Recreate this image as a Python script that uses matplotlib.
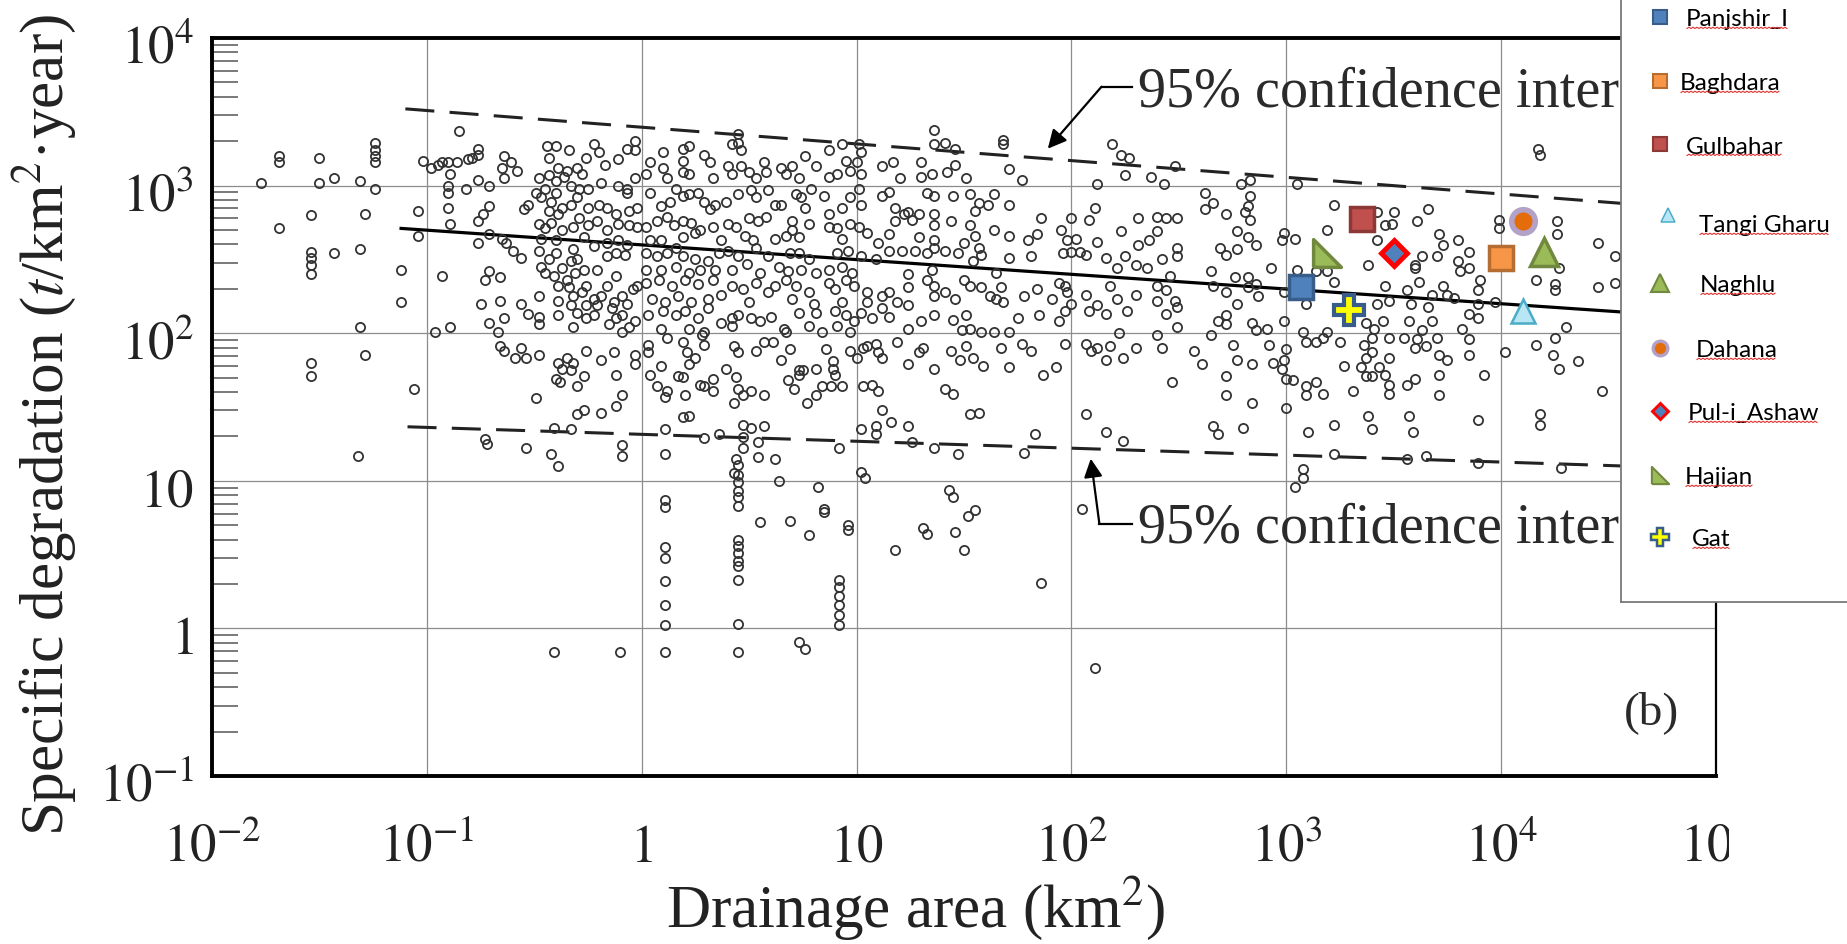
import numpy as np
import matplotlib
matplotlib.use("Agg")
import matplotlib.pyplot as plt
from matplotlib.lines import Line2D
from matplotlib.patches import Rectangle
from matplotlib.ticker import LogLocator, NullFormatter
from matplotlib.transforms import offset_copy

plt.rcParams['font.family'] = ['Liberation Serif', 'DejaVu Serif']
plt.rcParams['mathtext.fontset'] = 'stix'
SERIF = ['Liberation Serif', 'DejaVu Serif']

######################################################################
# scanned data points as (log10 area, log10 degradation)

pts_far_left = [
    (-1.77, 3.02), (-1.69, 3.20), (-1.69, 3.16), (-1.69, 2.71), (-1.54, 2.80), (-1.54, 2.55),
    (-1.54, 2.51), (-1.54, 2.46), (-1.54, 2.40), (-1.54, 1.80), (-1.54, 1.71), (-1.50, 3.19),
    (-1.50, 3.02), (-1.43, 3.05), (-1.43, 2.54), (-1.31, 3.03), (-1.29, 2.81), (-1.31, 2.57),
    (-1.31, 2.04), (-1.29, 1.85), (-1.32, 1.17), (-1.24, 3.29), (-1.24, 3.24), (-1.24, 3.20),
    (-1.24, 3.16), (-1.24, 2.98), (-1.12, 2.43), (-1.12, 2.21), (-1.06, 1.62), (-1.04, 2.83),
    (-1.04, 2.66),
]

pts_tenth = [
    (-1.02, 3.17), (-0.98, 3.12), (-0.95, 3.14), (-0.93, 3.16), (-0.90, 3.16), (-0.86, 3.16),
    (-0.85, 3.37), (-0.81, 3.18), (-0.79, 3.19), (-0.76, 3.25), (-0.76, 3.21), (-0.89, 3.08),
    (-0.90, 3.00), (-0.90, 2.95), (-0.82, 2.98), (-0.76, 3.04), (-0.71, 3.00), (-0.90, 2.85),
    (-0.89, 2.74), (-0.76, 2.76), (-0.74, 2.81), (-0.71, 2.86), (-0.93, 2.39), (-0.76, 2.61),
    (-0.71, 2.67), (-0.73, 2.36), (-0.71, 2.42), (-0.66, 2.38), (-0.75, 2.20), (-0.66, 2.22),
    (-0.64, 2.10), (-0.71, 2.07), (-0.67, 2.01), (-0.66, 1.91), (-0.96, 2.01), (-0.89, 2.04),
    (-0.64, 3.20), (-0.61, 3.16), (-0.58, 3.10), (-0.65, 3.12), (-0.64, 3.05), (-0.65, 2.64),
    (-0.63, 2.61), (-0.60, 2.56), (-0.56, 2.51), (-0.55, 2.84), (-0.73, 1.28), (-0.72, 1.25),
]

pts_near_one = [
    (-0.44, 3.27), (-0.40, 3.27), (-0.43, 3.19), (-0.34, 3.24), (-0.26, 3.19), (-0.22, 3.28),
    (-0.20, 3.23), (-0.17, 3.14), (-0.11, 3.18), (-0.07, 3.25), (-0.03, 3.30), (-0.03, 3.24),
    (-0.39, 3.12), (-0.35, 3.10), (-0.30, 3.12), (-0.28, 3.08),
    (-0.48, 3.05), (-0.43, 3.07), (-0.40, 3.03), (-0.36, 3.06), (-0.33, 3.00), (-0.29, 2.98),
    (-0.25, 2.98), (-0.19, 3.02), (-0.11, 3.00), (-0.07, 2.98), (-0.03, 3.05), (-0.49, 2.95),
    (-0.45, 2.98), (-0.40, 2.95),
    (-0.53, 2.87), (-0.47, 2.92), (-0.42, 2.89), (-0.37, 2.85), (-0.33, 2.87), (-0.30, 2.92),
    (-0.25, 2.85), (-0.20, 2.87), (-0.16, 2.85), (-0.12, 2.81), (-0.07, 2.95), (-0.06, 2.83),
    (-0.02, 2.85), (-0.43, 2.83), (-0.39, 2.81),
    (-0.48, 2.74), (-0.45, 2.71), (-0.42, 2.75), (-0.37, 2.70), (-0.32, 2.72), (-0.29, 2.78),
    (-0.25, 2.73), (-0.21, 2.76), (-0.16, 2.70), (-0.11, 2.74), (-0.06, 2.73), (-0.02, 2.72),
    (-0.47, 2.64), (-0.40, 2.63), (-0.32, 2.57), (-0.27, 2.65), (-0.22, 2.59), (-0.16, 2.61),
    (-0.11, 2.63), (-0.07, 2.60),
    (-0.48, 2.56), (-0.47, 2.45), (-0.43, 2.50), (-0.40, 2.54), (-0.37, 2.44), (-0.33, 2.49),
    (-0.30, 2.50), (-0.27, 2.43), (-0.21, 2.43), (-0.16, 2.52), (-0.12, 2.54), (-0.12, 2.39),
    (-0.08, 2.53), (-0.02, 2.32), (-0.45, 2.41), (-0.41, 2.39), (-0.39, 2.32), (-0.35, 2.36),
    (-0.31, 2.41),
    (-0.34, 2.31), (-0.32, 2.25), (-0.28, 2.28), (-0.26, 2.32), (-0.22, 2.23), (-0.19, 2.25),
    (-0.16, 2.32), (-0.13, 2.21), (-0.09, 2.25), (-0.07, 2.20), (-0.04, 2.30), (-0.39, 2.22),
    (-0.33, 2.19), (-0.26, 2.19), (-0.21, 2.19), (-0.48, 2.25), (-0.56, 2.20), (-0.53, 2.13),
    (-0.39, 2.12), (-0.30, 2.14), (-0.26, 2.10), (-0.22, 2.12), (-0.32, 2.04), (-0.15, 2.06),
    (-0.12, 2.10), (-0.09, 2.12), (-0.06, 2.04), (-0.03, 2.08), (-0.48, 2.11), (-0.48, 2.06),
    (-0.09, 2.01), (-0.14, 2.17),
    (-0.56, 1.90), (-0.59, 1.83), (-0.54, 1.83), (-0.48, 1.85), (-0.39, 1.80), (-0.37, 1.76),
    (-0.35, 1.83), (-0.32, 1.80), (-0.33, 1.75), (-0.40, 1.69), (-0.38, 1.67), (-0.27, 1.71),
    (-0.30, 1.64), (-0.26, 1.88), (-0.19, 1.82), (-0.13, 1.87), (-0.12, 1.72), (-0.03, 1.85),
    (-0.03, 1.79), (-0.49, 1.56), (-0.09, 1.58), (-0.12, 1.51), (-0.27, 1.48), (-0.30, 1.45),
    (-0.19, 1.46), (-0.41, 1.36), (-0.33, 1.35), (-0.09, 1.24), (-0.09, 1.17), (-0.42, 1.18),
    (-0.39, 1.10), (-0.54, 1.22), (-0.64, 1.88),
]

pts_one_to_hundred = [
    (0.45, 3.35), (0.45, 3.29), (0.46, 3.24), (0.42, 3.28), (0.10, 3.23), (0.19, 3.25),
    (0.22, 3.27), (0.29, 3.21), (0.19, 3.17), (0.32, 3.16), (0.76, 3.20), (0.87, 3.24),
    (0.93, 3.28), (1.01, 3.28), (1.02, 3.23), (1.36, 3.38), (1.36, 3.28), (1.41, 3.29),
    (1.46, 3.25), (1.68, 3.31), (1.68, 3.28),
    (0.02, 3.08), (0.10, 3.12), (0.12, 3.05), (0.19, 3.09), (0.22, 3.08), (0.33, 3.05),
    (0.40, 3.13), (0.42, 3.08), (0.46, 3.13), (0.50, 3.09), (0.53, 3.05), (0.57, 3.16),
    (0.58, 3.09), (0.65, 3.12), (0.67, 3.08), (0.70, 3.13), (0.73, 3.05), (0.81, 3.13),
    (0.87, 3.06), (0.91, 3.08), (0.95, 3.17), (0.97, 3.10), (1.00, 3.16), (1.02, 3.08),
    (1.12, 3.13), (1.17, 3.16), (1.20, 3.05), (1.30, 3.16), (1.30, 3.06), (1.35, 3.08),
    (1.42, 3.09), (1.46, 3.14), (1.51, 3.05), (1.71, 3.11), (1.77, 3.04), (0.04, 3.16),
    (0.04, 2.95), (0.09, 2.86), (0.13, 2.89), (0.16, 2.98), (0.19, 2.93), (0.22, 2.94),
    (0.26, 2.95), (0.29, 2.89), (0.32, 2.84), (0.34, 2.87), (0.39, 2.89), (0.45, 2.94),
    (0.51, 2.97), (0.53, 2.92), (0.59, 2.97), (0.62, 2.87), (0.65, 2.87), (0.72, 2.94),
    (0.74, 2.92), (0.76, 2.85), (0.79, 2.98), (0.85, 2.93), (0.87, 2.81), (0.93, 2.85),
    (0.97, 2.92), (1.01, 2.98), (1.02, 2.87), (1.12, 2.93), (1.15, 2.96), (1.18, 2.85),
    (1.24, 2.82), (1.29, 2.81), (1.33, 2.95), (1.36, 2.93), (1.36, 2.81), (1.45, 2.93),
    (1.53, 2.94), (1.57, 2.88), (1.61, 2.87), (1.64, 2.94), (1.71, 2.87), (1.55, 2.83),
    (1.86, 2.78),
    (0.02, 2.72), (0.07, 2.76), (0.12, 2.79), (0.15, 2.73), (0.19, 2.76), (0.23, 2.75),
    (0.27, 2.70), (0.33, 2.72), (0.40, 2.74), (0.44, 2.72), (0.50, 2.78), (0.54, 2.76),
    (0.58, 2.79), (0.62, 2.64), (0.67, 2.66), (0.70, 2.76), (0.73, 2.65), (0.78, 2.74),
    (0.87, 2.72), (0.91, 2.71), (0.93, 2.64), (0.97, 2.74), (1.01, 2.72), (1.05, 2.68),
    (1.10, 2.61), (1.15, 2.67), (1.18, 2.76), (1.22, 2.81), (1.26, 2.77), (1.29, 2.65),
    (1.36, 2.73), (1.36, 2.63), (1.44, 2.76), (1.53, 2.73), (1.55, 2.66), (1.50, 2.61),
    (1.64, 2.70), (1.71, 2.66), (1.80, 2.63), (1.84, 2.67), (1.95, 2.70), (1.98, 2.63),
    (1.57, 2.58), (0.04, 2.63), (0.09, 2.63), (0.19, 2.65), (0.25, 2.68), (0.37, 2.63),
    (0.48, 2.66), (0.52, 2.63), (0.70, 2.70),
    (0.02, 2.54), (0.07, 2.52), (0.12, 2.54), (0.16, 2.58), (0.19, 2.52), (0.25, 2.50),
    (0.31, 2.49), (0.36, 2.54), (0.40, 2.56), (0.45, 2.52), (0.53, 2.58), (0.59, 2.52),
    (0.64, 2.45), (0.69, 2.54), (0.73, 2.54), (0.78, 2.50), (0.81, 2.41), (0.87, 2.43),
    (0.91, 2.54), (0.96, 2.56), (1.02, 2.52), (1.09, 2.50), (1.15, 2.56), (1.21, 2.56),
    (1.27, 2.56), (1.33, 2.54), (1.36, 2.58), (1.41, 2.56), (1.47, 2.54), (1.54, 2.49),
    (1.58, 2.53), (1.65, 2.41), (1.71, 2.51), (1.81, 2.52), (1.96, 2.54), (0.02, 2.43),
    (0.09, 2.43), (0.16, 2.45), (0.22, 2.41), (0.27, 2.43), (0.34, 2.43), (0.42, 2.43),
    (0.49, 2.47), (0.55, 2.41), (0.68, 2.42), (0.74, 2.43), (0.93, 2.45), (0.98, 2.41),
    (1.24, 2.40), (1.35, 2.43),
    (0.02, 2.34), (0.08, 2.36), (0.14, 2.32), (0.20, 2.36), (0.26, 2.33), (0.33, 2.36),
    (0.37, 2.26), (0.42, 2.32), (0.47, 2.30), (0.53, 2.34), (0.59, 2.28), (0.62, 2.32),
    (0.67, 2.36), (0.72, 2.32), (0.78, 2.28), (0.87, 2.34), (0.90, 2.30), (0.95, 2.36),
    (0.99, 2.32), (1.05, 2.28), (1.12, 2.25), (1.15, 2.28), (1.19, 2.21), (1.24, 2.31),
    (1.24, 2.19), (1.33, 2.36), (1.36, 2.32), (1.36, 2.25), (1.41, 2.28), (1.46, 2.23),
    (1.50, 2.36), (1.53, 2.32), (1.58, 2.31), (1.62, 2.25), (1.65, 2.23), (1.68, 2.21),
    (1.67, 2.31), (1.78, 2.25), (1.84, 2.30), (1.91, 2.23), (1.94, 2.34), (1.97, 2.32),
    (1.98, 2.28), (0.05, 2.23), (0.11, 2.21), (0.17, 2.25), (0.23, 2.21), (0.31, 2.23),
    (0.50, 2.21), (0.70, 2.23), (0.80, 2.20), (0.93, 2.21), (1.05, 2.21),
    (0.03, 2.12), (0.10, 2.15), (0.16, 2.12), (0.20, 2.15), (0.26, 2.10), (0.31, 2.17),
    (0.37, 2.07), (0.42, 2.05), (0.45, 2.12), (0.51, 2.10), (0.55, 2.08), (0.60, 2.11),
    (0.66, 2.03), (0.73, 2.14), (0.78, 2.05), (0.81, 2.14), (0.84, 2.01), (0.90, 2.15),
    (0.95, 2.12), (0.99, 2.08), (1.02, 2.14), (1.07, 2.10), (1.12, 2.17), (1.15, 2.11),
    (1.24, 2.03), (1.30, 2.08), (1.36, 2.12), (1.45, 2.09), (1.51, 2.12), (1.53, 2.03),
    (1.58, 2.01), (1.64, 2.01), (1.71, 2.01), (1.75, 2.10), (1.85, 2.12), (1.94, 2.08),
    (1.97, 2.15), (0.09, 2.03), (0.22, 2.03), (0.29, 2.01), (0.42, 2.10), (0.67, 2.01),
    (0.91, 2.05), (0.97, 2.01), (1.49, 2.02),
    (0.03, 1.92), (0.03, 1.87), (0.12, 1.97), (0.19, 1.94), (0.21, 1.87), (0.25, 1.83),
    (0.28, 1.99), (0.29, 1.92), (0.43, 1.91), (0.45, 1.87), (0.53, 1.88), (0.57, 1.94),
    (0.61, 1.94), (0.65, 1.82), (0.69, 1.89), (0.73, 1.75), (0.75, 1.75), (0.81, 1.76),
    (0.86, 1.89), (0.89, 1.81), (0.89, 1.76), (0.97, 1.88), (1.00, 1.83), (1.03, 1.90),
    (1.05, 1.91), (1.09, 1.93), (1.10, 1.87), (1.12, 1.83), (1.19, 1.94), (1.24, 1.79),
    (1.29, 1.87), (1.31, 1.90), (1.36, 1.76), (1.44, 1.88), (1.48, 1.82), (1.51, 1.91),
    (1.54, 1.83), (1.59, 1.78), (1.67, 1.90), (1.71, 1.77), (1.77, 1.93), (1.81, 1.88),
    (1.93, 1.77), (1.87, 1.72), (1.97, 1.93), (0.09, 1.78), (0.17, 1.71), (0.22, 1.79),
    (0.04, 1.72), (0.07, 1.64), (0.12, 1.61), (0.11, 1.57), (0.19, 1.70), (0.20, 1.58),
    (0.27, 1.65), (0.29, 1.64), (0.33, 1.69), (0.33, 1.61), (0.39, 1.76), (0.44, 1.70),
    (0.45, 1.62), (0.47, 1.58), (0.51, 1.61), (0.57, 1.58), (0.68, 1.68), (0.71, 1.62),
    (0.73, 1.72), (0.77, 1.53), (0.81, 1.58), (0.84, 1.64), (0.88, 1.64), (0.93, 1.64),
    (0.90, 1.72), (1.03, 1.64), (1.07, 1.65), (1.10, 1.61), (1.12, 1.48), (1.16, 1.40),
    (1.41, 1.62), (1.45, 1.59), (1.53, 1.45), (1.57, 1.46), (0.43, 1.53),
    (0.19, 1.43), (0.22, 1.44), (0.11, 1.35), (0.29, 1.29), (0.47, 1.38), (0.51, 1.36),
    (0.57, 1.37), (0.47, 1.30), (0.47, 1.22), (0.44, 1.15), (0.45, 1.11), (0.54, 1.16),
    (0.62, 1.15), (0.54, 1.26), (0.92, 1.22), (0.11, 1.18), (1.02, 1.35), (1.09, 1.37),
    (1.09, 1.32), (1.24, 1.37), (1.26, 1.26), (1.36, 1.22), (1.47, 1.18), (1.83, 1.32),
    (1.78, 1.19), (1.02, 1.06), (0.43, 1.05), (0.36, 1.32),
]

pts_large = [
    (2.19, 3.28), (2.23, 3.21), (2.27, 3.19), (2.25, 3.07), (2.37, 3.06), (2.43, 3.01),
    (2.48, 3.13), (2.12, 3.01), (2.79, 3.01), (2.83, 3.04), (3.05, 3.01), (4.17, 3.25),
    (4.18, 3.21),
    (2.62, 2.95), (2.62, 2.84), (2.66, 2.88), (2.83, 2.93), (2.82, 2.86), (2.83, 2.77),
    (2.81, 2.82), (2.72, 2.81), (2.11, 2.85), (2.08, 2.77), (2.31, 2.78), (2.40, 2.79),
    (2.44, 2.78), (2.49, 2.78), (2.23, 2.69), (2.40, 2.69), (2.36, 2.63), (2.31, 2.60),
    (2.49, 2.58), (2.49, 2.52), (2.77, 2.69), (2.82, 2.65), (2.86, 2.60), (2.77, 2.57),
    (2.69, 2.58), (2.72, 2.53), (2.99, 2.68), (3.04, 2.64), (2.98, 2.63), (3.22, 2.87),
    (3.19, 2.70), (3.42, 2.82), (3.50, 2.82), (3.46, 2.73), (3.49, 2.74), (3.42, 2.63),
    (3.61, 2.76), (3.66, 2.84), (3.71, 2.67), (3.73, 2.60), (3.80, 2.63), (3.70, 2.52),
    (3.85, 2.55), (3.80, 2.49), (3.85, 2.44), (3.81, 2.42), (3.99, 2.77), (3.99, 2.71),
    (4.26, 2.76), (4.26, 2.67), (4.45, 2.61), (4.53, 2.52), (3.60, 2.46), (3.63, 2.52),
    (2.00, 2.78), (2.02, 2.64), (2.04, 2.55),
    (2.00, 2.55), (2.07, 2.53), (2.12, 2.62), (2.16, 2.51), (2.25, 2.52), (2.21, 2.44),
    (2.30, 2.46), (2.35, 2.44), (2.42, 2.50), (2.46, 2.39), (2.93, 2.44), (2.65, 2.42),
    (2.76, 2.38), (2.82, 2.38), (2.86, 2.33), (3.05, 2.43), (3.14, 2.42), (3.19, 2.42),
    (3.22, 2.35), (3.38, 2.46), (3.46, 2.32), (3.60, 2.44), (3.62, 2.35), (3.73, 2.32),
    (3.68, 2.26), (3.90, 2.36), (3.89, 2.29), (4.16, 2.36), (4.25, 2.33), (4.25, 2.29),
    (4.27, 2.44), (4.45, 2.31), (4.53, 2.34), (3.97, 2.21),
    (2.00, 2.20), (2.07, 2.26), (2.08, 2.15), (2.12, 2.19), (2.16, 2.13), (2.18, 2.32),
    (2.21, 2.23), (2.26, 2.15), (2.30, 2.26), (2.40, 2.32), (2.44, 2.29), (2.48, 2.22),
    (2.40, 2.22), (2.44, 2.13), (2.49, 2.18), (2.66, 2.32), (2.72, 2.28), (2.77, 2.20),
    (2.82, 2.31), (2.87, 2.25), (2.99, 2.28), (3.09, 2.20), (3.42, 2.20), (3.48, 2.22),
    (3.56, 2.29), (3.58, 2.20), (3.66, 2.18), (3.75, 2.26), (3.89, 2.20), (3.85, 2.13),
    (3.89, 2.10), (3.78, 2.24),
    (2.49, 2.04), (2.65, 1.99), (2.68, 2.08), (2.72, 2.12), (2.72, 2.06), (2.84, 2.07),
    (2.91, 2.03), (2.86, 2.02), (2.99, 2.08), (2.22, 2.00), (2.40, 1.99), (2.07, 1.93),
    (2.09, 1.88), (2.12, 1.90), (2.18, 1.91), (2.16, 1.82), (2.24, 1.83), (2.30, 1.90),
    (2.42, 1.90), (2.57, 1.88), (2.61, 1.79), (2.75, 1.92), (2.77, 1.82), (2.84, 1.79),
    (2.92, 1.92), (3.00, 1.89), (2.99, 1.82), (2.94, 1.80), (3.08, 2.01), (3.14, 1.94),
    (3.09, 1.94), (3.19, 2.01), (3.17, 1.97), (3.25, 1.94), (3.37, 2.07), (3.41, 2.03),
    (3.45, 2.08), (3.48, 1.97), (3.40, 1.97), (3.36, 1.92), (3.37, 1.83), (3.40, 1.87),
    (3.48, 1.83), (3.43, 1.77), (3.35, 1.77), (3.27, 1.78), (3.57, 2.08), (3.63, 2.02),
    (3.68, 2.08), (3.61, 1.96), (3.65, 1.91), (3.55, 1.97), (3.60, 1.90), (3.70, 1.97),
    (3.71, 1.85), (3.75, 1.82), (3.71, 1.72), (3.85, 1.96), (3.85, 1.85), (3.82, 2.03),
    (4.02, 1.87), (4.16, 1.92), (4.25, 1.97), (4.30, 2.04), (4.24, 1.85), (4.27, 1.76),
    (4.36, 1.81), (4.47, 1.61),
    (2.47, 1.67), (2.72, 1.71), (2.72, 1.58), (2.84, 1.53), (2.98, 1.76), (3.00, 1.69),
    (3.03, 1.68), (3.09, 1.64), (3.14, 1.67), (3.17, 1.59), (3.09, 1.58), (3.31, 1.61),
    (3.37, 1.71), (3.40, 1.71), (3.46, 1.72), (3.48, 1.65), (3.48, 1.59), (3.56, 1.65),
    (3.60, 1.69), (3.71, 1.58), (3.92, 1.72), (2.07, 1.45), (2.16, 1.33), (2.24, 1.27),
    (2.66, 1.37), (2.68, 1.32), (2.80, 1.36), (3.00, 1.49), (3.10, 1.33), (3.22, 1.38),
    (3.38, 1.44), (3.40, 1.35), (3.57, 1.44), (3.59, 1.33), (3.89, 1.41), (4.18, 1.45),
    (4.18, 1.38), (3.22, 1.18), (3.56, 1.15), (3.65, 1.17), (3.89, 1.12), (4.28, 1.09),
    (3.08, 1.08),
]

pts_low = [
    (0.11, 0.87), (0.11, 0.82), (0.11, 0.55), (0.11, 0.48), (0.11, 0.32), (0.11, 0.16),
    (0.11, 0.02), (0.11, -0.16),
    (0.45, 1.04), (0.45, 0.99), (0.45, 0.93), (0.45, 0.89), (0.45, 0.83), (0.45, 0.60),
    (0.45, 0.56), (0.45, 0.51), (0.45, 0.46), (0.45, 0.42), (0.45, 0.33), (0.45, 0.03),
    (0.45, -0.16),
    (0.55, 0.72), (0.64, 1.00), (0.69, 0.73), (0.82, 0.96), (0.85, 0.81), (0.85, 0.79),
    (0.78, 0.63), (0.96, 0.70), (0.96, 0.67),
    (0.92, 0.33), (0.92, 0.28), (0.92, 0.22), (0.92, 0.16), (0.92, 0.09), (0.92, 0.02),
    (0.73, -0.09), (0.76, -0.14), (-0.41, -0.16), (-0.10, -0.16),
    (1.04, 1.02), (1.43, 0.94), (1.45, 0.89), (1.55, 0.80), (1.52, 0.76), (1.31, 0.68),
    (1.33, 0.64), (1.18, 0.53), (1.46, 0.65), (1.50, 0.53), (1.86, 0.31), (2.05, 0.81),
    (2.11, -0.27), (3.04, 0.96), (3.08, 1.02),
]

# regression line and 95% confidence limits (log10 area, log10 degradation at both ends)
fit_line = [(-1.12, 2.71), (5.0, 2.10)]
upper_limit = [(-1.10, 3.52), (5.0, 2.83)]
lower_limit = [(-1.09, 1.366), (5.0, 1.08)]

# Afghan reservoirs added on top
station_names = ['Panjshir_I', 'Baghdara', 'Gulbahar', 'Tangi Gharu', 'Naghlu',
                 'Dahana', 'Pul-i_Ashaw', 'Hajian', 'Gat']
station_area = [1175, 10000, 2240, 12700, 15800, 12600, 3160, 1550, 1950]
station_sed = [204, 324, 590, 141, 355, 575, 351, 347, 143]

x_tick_labels = ['$10^{-2}$', '$10^{-1}$', '$1$', '$10$', '$10^{2}$', '$10^{3}$', '$10^{4}$', '$10^{5}$']
y_tick_labels = ['$10^{-1}$', '$1$', '$10$', '$10^{2}$', '$10^{3}$', '$10^{4}$']

# the scan's label is cut by the legend box after "inter"
conf_label = '95% confidence inter'

######################################################################

right_tri = [(-1, -1), (1, -1), (-1, 1), (-1, -1)]
styles = {
    'Panjshir_I': dict(marker='s', mfc='#4F81BD', mec='#385D8A', ms=17, mew=2.5),
    'Baghdara': dict(marker='s', mfc='#F79646', mec='#B66D31', ms=17, mew=2.5),
    'Gulbahar': dict(marker='s', mfc='#C0504D', mec='#8C3836', ms=17, mew=2.5),
    'Tangi Gharu': dict(marker='^', mfc='#B9E6F5', mec='#4BACC6', ms=17, mew=1.8),
    'Naghlu': dict(marker='^', mfc='#9BBB59', mec='#71893F', ms=20, mew=2.5),
    'Dahana': dict(marker='o', mfc='#E46C0A', mec='#B3A2C7', ms=17, mew=4),
    'Pul-i_Ashaw': dict(marker='D', mfc='#4F81BD', mec='#FF0000', ms=13, mew=3.5),
    'Hajian': dict(marker=right_tri, mfc='#9BBB59', mec='#71893F', ms=20, mew=2.5),
    'Gat': dict(marker='P', mfc='#FFFF00', mec='#385D8A', ms=22, mew=3),
}

W, H = 1847, 945
fig = plt.figure(figsize=(W / 100, H / 100), dpi=100)
ax = fig.add_axes([212 / W, 1 - 777 / H, (1716 - 212) / W, (777 - 39) / H])
ax.set_xscale('log')
ax.set_yscale('log')
ax.set_xlim(1e-2, 1e5)
ax.set_ylim(1e-1, 1e4)

ax.grid(True, which='major', color='#8c8c8c', lw=0.9)
ax.set_axisbelow(True)
ax.tick_params(which='major', length=0, labelbottom=False, labelleft=False)
ax.yaxis.set_minor_locator(LogLocator(base=10, subs=np.arange(2, 10), numticks=30))
ax.yaxis.set_minor_formatter(NullFormatter())
ax.xaxis.set_minor_formatter(NullFormatter())
ax.tick_params(axis='y', which='minor', direction='in', length=19, width=1.1, color='#555555')
ax.tick_params(axis='x', which='minor', length=0)
for side in ['top', 'left', 'bottom']:
    ax.spines[side].set_linewidth(2.8)
ax.spines['right'].set_linewidth(1.6)

# scanned points
all_pts = pts_far_left + pts_tenth + pts_near_one + pts_one_to_hundred + pts_large + pts_low
lx, ly = np.array(all_pts).T
ax.plot(10 ** lx, 10 ** ly, 'o', ls='none', mfc='none', mec='#333333', ms=6.6, mew=1.3, zorder=3)

# regression + confidence lines
fx, fy = np.array(fit_line).T
ax.plot(10 ** fx, 10 ** fy, color='black', lw=2.3, zorder=2)
for lim in (upper_limit, lower_limit):
    px, py = np.array(lim).T
    ax.plot(10 ** px, 10 ** py, color='#222222', lw=2.2, ls=(0, (9.5, 5)), zorder=2)

# annotations
for ty in (3.545, 0.59):
    ax.text(10 ** 2.31, 10 ** ty, conf_label, fontsize=40.5, color='#2a2a2a',
            family=SERIF, ha='left', va='baseline', zorder=4)
ax.plot([10 ** 2.28, 10 ** 2.14], [10 ** 3.67, 10 ** 3.67], color='black', lw=1.6)
ax.annotate('', xy=(10 ** 1.89, 10 ** 3.25), xytext=(10 ** 2.14, 10 ** 3.67),
            arrowprops=dict(arrowstyle='-|>', color='black', lw=1.6, mutation_scale=28,
                            shrinkA=0, shrinkB=0))
ax.plot([10 ** 2.28, 10 ** 2.13], [10 ** 0.71, 10 ** 0.71], color='black', lw=1.6)
ax.annotate('', xy=(10 ** 2.09, 10 ** 1.15), xytext=(10 ** 2.13, 10 ** 0.71),
            arrowprops=dict(arrowstyle='-|>', color='black', lw=1.6, mutation_scale=28,
                            shrinkA=0, shrinkB=0))
ax.text(10 ** 4.70, 10 ** -0.567, '(b)', fontsize=34, color='#2a2a2a', family=SERIF,
        ha='center', va='center')

# reservoir markers
for name, a, s in zip(station_names, station_area, station_sed):
    ax.plot([a], [s], ls='none', zorder=6, **styles[name])

# tick labels drawn by hand so the superscripts sit like the scan
xt = offset_copy(ax.get_xaxis_transform(), fig=fig, x=0, y=-61, units='points')
for i, lab in enumerate(x_tick_labels):
    ax.text(10.0 ** (i - 2), 0, lab, transform=xt, ha='center', va='baseline',
            fontsize=38, color='#222222', clip_on=False)
yt = offset_copy(ax.get_yaxis_transform(), fig=fig, x=-13, y=-18, units='points')
for i, lab in enumerate(y_tick_labels):
    ax.text(0, 10.0 ** (i - 1), lab, transform=yt, ha='right', va='baseline',
            fontsize=38, color='#222222', clip_on=False)

fig.text(0.496, 0.019, 'Drainage area (km$^2$)', fontsize=44, color='#222222',
         family=SERIF, ha='center', va='baseline')
fig.text(0.024, 0.55, 'Specific degradation ($t$/km$^2$·year)', fontsize=44, color='#222222',
         family=SERIF, ha='center', va='center', rotation=90)

# the scan is cut on the right
fig.add_artist(Rectangle((1729 / W, 0), 1, 1, transform=fig.transFigure,
                         facecolor='white', edgecolor='none', zorder=1))

# legend box
lax = fig.add_axes([1621 / W, 1 - 603 / H, 240 / W, 620 / H])
lax.set_xlim(1621, 1861)
lax.set_ylim(603, -17)
lax.set_xticks([])
lax.set_yticks([])
lax.set_zorder(5)
for s in lax.spines.values():
    s.set_color('#7a7a7a')
    s.set_linewidth(1.3)

leg_y = [20, 84, 147, 218, 286, 351, 414, 478, 540]
leg_mx = [1660, 1660, 1660, 1668, 1660, 1660, 1660, 1660, 1660]
leg_tx = [1686, 1680, 1686, 1699, 1700, 1696, 1688, 1685, 1692]
leg_texts = []
for name, y, mx, tx in zip(station_names, leg_y, leg_mx, leg_tx):
    st = dict(styles[name])
    st['ms'] = st['ms'] * 0.62
    st['mew'] = max(1.0, st['mew'] * 0.6)
    lax.plot([mx], [y - 2], ls='none', **st)
    ty = y + 8 if name == 'Tangi Gharu' else y
    leg_texts.append(lax.text(tx, ty, name, fontsize=17.5, family=['Lato', 'DejaVu Sans'],
                              color='black', ha='left', va='center'))

# red spell-check squiggles under the legend names
fig.canvas.draw()
renderer = fig.canvas.get_renderer()
for t in leg_texts:
    bb = t.get_window_extent(renderer)
    xs = np.arange(bb.x0 + 1, bb.x1 - 1, 2.0)
    ys = bb.y0 + 1 + 1.3 * (np.arange(len(xs)) % 2)
    fig.add_artist(Line2D(xs / W, ys / H, transform=fig.transFigure, color='#e03030',
                          lw=0.8, zorder=7))

fig.savefig('out.png', dpi=100, facecolor='white')
